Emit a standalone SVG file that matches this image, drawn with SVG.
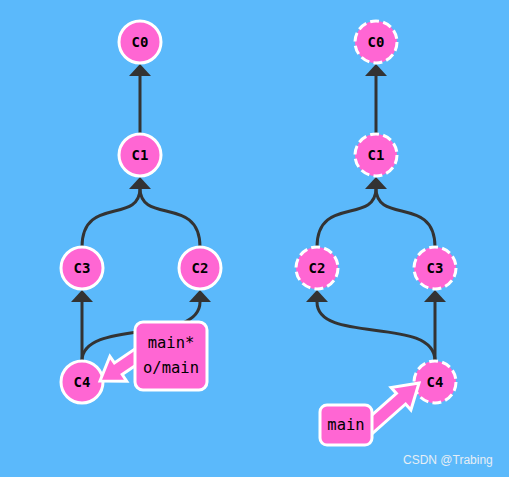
<svg xmlns="http://www.w3.org/2000/svg" width="509" height="477" viewBox="0 0 509 477">
<style>
.bg{fill:#5bb9fb}
.edge{fill:none;stroke:#333;stroke-width:3}
.head{fill:#333}
.c{fill:#ff66d3;stroke:#fff;stroke-width:3}
.cd{fill:#ff66d3;stroke:#fff;stroke-width:3;stroke-dasharray:9,4.2}
.ct{font-family:"DejaVu Sans Mono","Liberation Mono",monospace;font-weight:bold;font-size:14px;fill:#000;text-anchor:middle}
.box{fill:#ff66d3;stroke:#fff;stroke-width:3}
.bt{font-family:"DejaVu Sans Mono","Liberation Mono",monospace;font-size:15.5px;fill:#000;text-anchor:middle}
.ptr{fill:#ff66d3;stroke:#fff;stroke-width:3;stroke-linejoin:miter}
.wm{font-family:"Liberation Sans",Arial,sans-serif;font-size:12px;fill:#e6eef5}
</style>
<defs>
<path id="ah" d="M0,0 L11,12 L-11,12 Z"/>
</defs>
<rect class="bg" x="0" y="0" width="509" height="477"/>
<g id="connectors">
<path class="edge" d="M140,134 L140,76"/>
<path class="edge" d="M82,247 C82,195 140,225 140,188"/>
<path class="edge" d="M200,247 C200,195 140,225 140,188"/>
<path class="edge" d="M82,361 L82,302"/>
<path class="edge" d="M82,361 C82,318 200,345 200,302"/>
<use href="#ah" class="head" x="140" y="64"/>
<use href="#ah" class="head" x="140" y="177"/>
<use href="#ah" class="head" x="82" y="290"/>
<use href="#ah" class="head" x="200" y="290"/>
<path class="edge" d="M376,134 L376,76"/>
<path class="edge" d="M317,247 C317,195 376,225 376,188"/>
<path class="edge" d="M435,247 C435,195 376,225 376,188"/>
<path class="edge" d="M435,361 L435,302"/>
<path class="edge" d="M435,361 C435,315 317,345 317,302"/>
<use href="#ah" class="head" x="376" y="64"/>
<use href="#ah" class="head" x="376" y="177"/>
<use href="#ah" class="head" x="317" y="290"/>
<use href="#ah" class="head" x="435" y="290"/>
</g>
<g id="C0L"><circle class="c" cx="140" cy="42" r="21"/><text class="ct" x="140" y="47">C0</text></g>
<g id="C1L"><circle class="c" cx="140" cy="155" r="21"/><text class="ct" x="140" y="160">C1</text></g>
<g id="C3L"><circle class="c" cx="82" cy="268" r="21"/><text class="ct" x="82" y="273">C3</text></g>
<g id="C2L"><circle class="c" cx="200" cy="268" r="21"/><text class="ct" x="200" y="273">C2</text></g>
<g id="C4L"><circle class="c" cx="82" cy="382" r="21"/><text class="ct" x="82" y="387">C4</text></g>
<g id="mainL">
<polygon class="ptr" points="100,381 126.7,381.2 122.2,374.5 153.7,353.2 145.9,341.6 114.4,362.9 109.9,356.3"/>
<rect class="box" x="135" y="322" width="72" height="68" rx="8"/>
<text class="bt" x="171" y="348">main*</text>
<text class="bt" x="171" y="373">o/main</text>
</g>
<g id="C0R"><circle class="cd" cx="376" cy="42" r="21"/><text class="ct" x="376" y="47">C0</text></g>
<g id="C1R"><circle class="cd" cx="376" cy="155" r="21"/><text class="ct" x="376" y="160">C1</text></g>
<g id="C2R"><circle class="cd" cx="317" cy="268" r="21"/><text class="ct" x="317" y="273">C2</text></g>
<g id="C3R"><circle class="cd" cx="435" cy="268" r="21"/><text class="ct" x="435" y="273">C3</text></g>
<g id="C4R"><circle class="cd" cx="435" cy="382" r="21"/><text class="ct" x="435" y="387">C4</text></g>
<g id="mainR">
<polygon class="ptr" points="419,383 391.1,387.6 396.4,393.5 361.9,423.9 371.1,434.5 405.6,404 410.9,410"/>
<rect class="box" x="320" y="405" width="52" height="40" rx="7"/>
<text class="bt" x="346" y="430">main</text>
</g>
<text class="wm" x="403" y="464">CSDN @Trabing</text>
</svg>
